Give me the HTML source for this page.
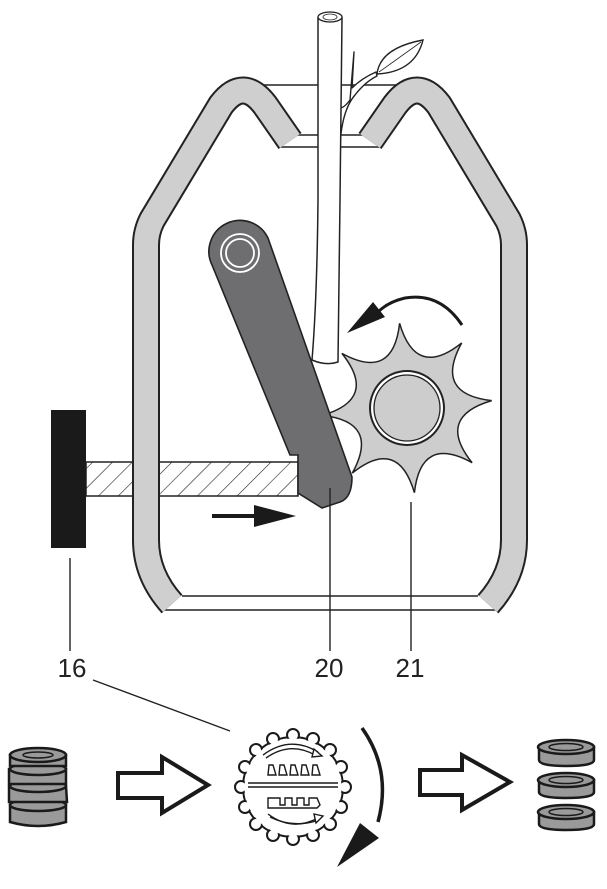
<!DOCTYPE html>
<html><head><meta charset="utf-8"><style>
html,body{margin:0;padding:0;background:#fff;}
svg{display:block;}
text{font-family:"Liberation Sans",sans-serif;}
</style></head><body>
<svg width="607" height="889" viewBox="0 0 607 889" xmlns="http://www.w3.org/2000/svg">
<defs>
<pattern id="hatch" patternUnits="userSpaceOnUse" width="14" height="14" patternTransform="rotate(45)">
<rect width="14" height="14" fill="#fff"/><line x1="0" y1="0" x2="0" y2="14" stroke="#222" stroke-width="1.2"/>
</pattern>
</defs>
<g stroke="#222" stroke-width="1.4" fill="none">
<line x1="243" y1="85" x2="417" y2="85"/>
<line x1="297" y1="135" x2="363" y2="135"/>
<line x1="280" y1="147" x2="380" y2="147"/>
<line x1="182" y1="596" x2="478" y2="596"/>
<line x1="162" y1="610" x2="498" y2="610"/>
</g>
<rect x="86" y="462" width="212" height="34" fill="url(#hatch)" stroke="#222" stroke-width="1.5"/>
<g fill="none" stroke-linecap="butt" stroke-linejoin="round">
<path d="M290,141 L265,105 Q243,76 221,105 L152,220 Q146,232 146,245 L146,540 Q146,575 172,604" stroke="#222" stroke-width="28"/>
<path d="M290,141 L265,105 Q243,76 221,105 L152,220 Q146,232 146,245 L146,540 Q146,575 172,604" stroke="#cfcfd0" stroke-width="24"/>
<path d="M370,141 L395,105 Q417,76 439,105 L508,220 Q514,232 514,245 L514,540 Q514,575 488,604" stroke="#222" stroke-width="28"/>
<path d="M370,141 L395,105 Q417,76 439,105 L508,220 Q514,232 514,245 L514,540 Q514,575 488,604" stroke="#cfcfd0" stroke-width="24"/>
</g>
<rect x="51" y="410" width="35" height="138" fill="#1a1a1a"/>
<!-- branch & leaf -->
<path d="M340,145 Q342,110 355,95 Q365,82 377,76 L376,72 Q362,78 352,88 L354,52 L350,100 Q344,108 340,108 Z" fill="#fff" stroke="#222" stroke-width="1.4" stroke-linejoin="round"/>
<path d="M377,74 Q380,48 423,40 Q415,72 377,74 Z" fill="#fff" stroke="#222" stroke-width="1.4"/>
<path d="M379,72 L421,42" stroke="#222" stroke-width="0.8"/>
<!-- stem -->
<path d="M318,18 L318,200 Q317,300 312,360 Q326,366 338,362 Q339,300 340,200 L342,18 Z" fill="#fff" stroke="#222" stroke-width="1.5"/>
<ellipse cx="330" cy="17" rx="12" ry="5" fill="#fff" stroke="#222" stroke-width="1.3"/>
<ellipse cx="330" cy="17" rx="7" ry="3" fill="none" stroke="#222" stroke-width="0.8"/>
<!-- gear -->
<path d="M322.3,415.4 Q378.4,399 341.9,353.4 Q393.1,381.4 399.6,323.3 Q416,379.4 461.7,342.9 Q433.6,394.1 491.7,400.6 Q435.6,417 472.1,462.7 Q420.9,434.6 414.4,492.7 Q398,436.6 352.3,473.1 Q380.4,421.9 322.3,415.4 Z" fill="#cdcdce" stroke="#222" stroke-width="1.5"/>
<circle cx="407" cy="408" r="38" fill="#222"/>
<circle cx="407" cy="408" r="36" fill="#fff"/>
<circle cx="407" cy="408" r="33" fill="#cdcdce" stroke="#222" stroke-width="1.3"/>
<path d="M462,325 Q440,292 405,298 Q388,302 378,312" fill="none" stroke="#1a1a1a" stroke-width="3"/>
<polygon points="347,333 373,302 385,317" fill="#1a1a1a"/>
<!-- crank arm -->
<path d="M212,265 A30,30 0 0 1 268,238 L352,477 Q352,498 340,502 L322,508 L298,493 L298,455 L290,455 Z" fill="#6e6e70" stroke="#222" stroke-width="1.6"/>
<circle cx="240" cy="253" r="19" fill="none" stroke="#fff" stroke-width="1.8"/>
<circle cx="240" cy="253" r="14" fill="none" stroke="#fff" stroke-width="1.8"/>
<line x1="212" y1="516" x2="258" y2="516" stroke="#1a1a1a" stroke-width="4"/>
<polygon points="254,505 296,516 254,527" fill="#1a1a1a"/>
<g stroke="#222" stroke-width="1.4">
<line x1="70" y1="558" x2="70" y2="651"/>
<line x1="330" y1="488" x2="330" y2="651"/>
<line x1="411" y1="502" x2="411" y2="651"/>
<line x1="93" y1="680" x2="230" y2="731"/>
</g>
<g font-size="26" fill="#222" text-anchor="middle">
<text x="72" y="677">16</text>
<text x="329" y="677">20</text>
<text x="410" y="677">21</text>
</g>
<!-- left stack -->
<g stroke="#1a1a1a" stroke-width="2.5" fill="#9a9a9b">
<path d="M10,805 L10,822 Q38,830 66,822 L66,805 Z"/>
<ellipse cx="38" cy="805" rx="28" ry="6"/>
<path d="M9,786 L9,802 L67,802 L66,786 Z"/>
<ellipse cx="38" cy="786" rx="28" ry="6"/>
<path d="M9,769 L9,784 L66,784 L66,769 Z"/>
<ellipse cx="38" cy="769" rx="28" ry="6"/>
<path d="M10,755 L10,766 L66,766 L66,755 Z"/>
<ellipse cx="38" cy="755" rx="28" ry="7"/>
<ellipse cx="38" cy="755" rx="15" ry="3" fill="none" stroke-width="1.5"/>
</g>
<polygon points="118,773 162,773 162,757 208,785 162,813 162,798 118,798" fill="#fff" stroke="#1a1a1a" stroke-width="4"/>
<polygon points="420,770 462,770 462,755 510,782 462,810 462,795 420,795" fill="#fff" stroke="#1a1a1a" stroke-width="4"/>
<!-- bottom gear -->
<circle cx="293" cy="787" r="50" fill="#fff" stroke="#1a1a1a" stroke-width="2"/>
<g stroke="#1a1a1a" stroke-width="2" fill="#fff">
<circle cx="293" cy="735" r="6"/><circle cx="313" cy="739" r="6"/><circle cx="330" cy="750" r="6"/><circle cx="341" cy="767" r="6"/><circle cx="345" cy="787" r="6"/><circle cx="341" cy="807" r="6"/><circle cx="330" cy="824" r="6"/><circle cx="313" cy="835" r="6"/><circle cx="293" cy="839" r="6"/><circle cx="273" cy="835" r="6"/><circle cx="256" cy="824" r="6"/><circle cx="245" cy="807" r="6"/><circle cx="241" cy="787" r="6"/><circle cx="245" cy="767" r="6"/><circle cx="256" cy="750" r="6"/><circle cx="273" cy="739" r="6"/>
</g>
<circle cx="293" cy="787" r="48.5" fill="#fff"/>
<g stroke="#1a1a1a" fill="none" stroke-width="1.4">
<path d="M263,755 Q290,735 318,752"/><path d="M266,758 Q290,741 315,755"/>
<polygon points="314,749 322,756 312,757" fill="#fff"/>
<line x1="248" y1="783" x2="338" y2="783"/><line x1="248" y1="787" x2="338" y2="787"/>
<path d="M268,775 L269,765 L273,765 L276,775 Z M279,775 L280,765 L284,765 L287,775 Z M290,775 L291,765 L295,765 L298,775 Z M301,775 L302,765 L306,765 L309,775 Z M312,775 L313,765 L317,765 L320,775 Z"/>
<path d="M268,798 L280,798 L280,805 L285,805 L285,798 L292,798 L292,805 L297,805 L297,798 L304,798 L304,805 L309,805 L309,798 L317,798 L320,805 L317,808 L268,808 Z"/>
<path d="M268,814 Q292,832 318,818"/><path d="M270,817 Q292,828 316,821"/>
<polygon points="314,814 323,816 316,823" fill="#fff"/>
</g>
<path d="M362,728 Q392,770 378,822" fill="none" stroke="#1a1a1a" stroke-width="3.5"/>
<polygon points="337,867 360,823 379,838" fill="#1a1a1a"/>
<g stroke="#1a1a1a" stroke-width="2.5" fill="#9a9a9b">
<path d="M539,747 L539,760 Q539,766 566,766 Q594,766 594,760 L594,747 Z"/>
<ellipse cx="566" cy="747" rx="28" ry="7"/>
<ellipse cx="566" cy="747" rx="17" ry="3.5" fill="none" stroke-width="1.5"/>
<path d="M539,780 L539,792 Q539,798 566,798 Q594,798 594,792 L594,780 Z"/>
<ellipse cx="566" cy="780" rx="28" ry="7"/>
<ellipse cx="566" cy="780" rx="17" ry="3.5" fill="none" stroke-width="1.5"/>
<path d="M539,812 L539,824 Q539,830 566,830 Q594,830 594,824 L594,812 Z"/>
<ellipse cx="566" cy="812" rx="28" ry="7"/>
<ellipse cx="566" cy="812" rx="17" ry="3.5" fill="none" stroke-width="1.5"/>
</g>
</svg>
</body></html>
